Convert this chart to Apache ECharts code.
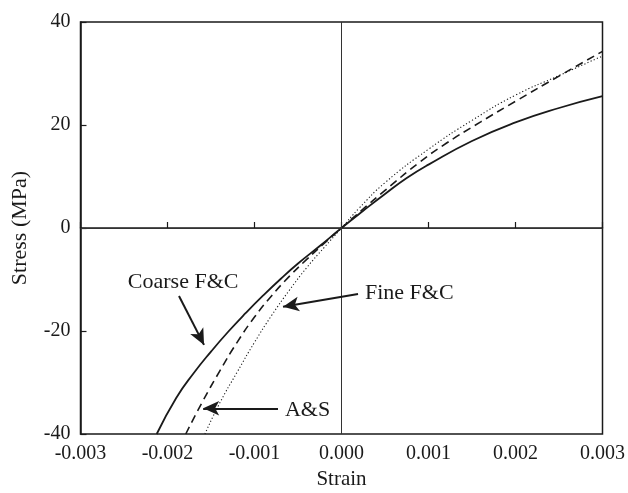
<!DOCTYPE html>
<html>
<head>
<meta charset="utf-8">
<script src="https://cdn.jsdelivr.net/npm/echarts@6/dist/echarts.min.js"></script>
<style>
html,body{margin:0;padding:0;background:#fff;}
#chart{width:628px;height:493px;}
</style>
</head>
<body>
<div id="chart"></div>
<script>
// Coarse F&C (solid)
const coarseStrain = [-0.002124, -0.0019, -0.0017, -0.0015, -0.0013, -0.0011, -0.0009, -0.0007, -0.0005, -0.00025, 0, 0.00025, 0.0005, 0.00075, 0.001, 0.0015, 0.002, 0.0025, 0.003];
const coarseStress = [-40, -33.0, -28.2, -24.0, -20.1, -16.5, -13.1, -9.9, -6.9, -3.5, 0, 3.35, 6.6, 9.7, 12.3, 16.9, 20.5, 23.3, 25.6];
// Fine F&C (dashed)
const fineStrain = [-0.00179, -0.0016, -0.0014, -0.0012, -0.001, -0.0008, -0.0006, -0.0004, -0.0002, 0, 0.00025, 0.0005, 0.0009, 0.0012, 0.0016, 0.002, 0.0025, 0.003];
const fineStress = [-40, -33.8, -27.8, -22.2, -17.3, -13.1, -9.4, -6.1, -3.0, 0, 3.7, 7.3, 12.8, 16.4, 20.6, 24.6, 29.5, 34.3];
// A&S (dotted)
const asStrain = [-0.00157, -0.0014, -0.0012, -0.001, -0.0008, -0.0006, -0.0004, -0.0002, 0, 0.0002, 0.0005, 0.001, 0.0015, 0.002, 0.0025, 0.003];
const asStress = [-40, -34, -28, -22.2, -16.9, -12.1, -7.7, -3.8, 0, 3.8, 8.8, 15.3, 20.9, 25.8, 29.6, 33.4];

const xTicks = [-0.003, -0.002, -0.001, 0, 0.001, 0.002, 0.003];
const yTicks = [-40, -20, 0, 20, 40];

// annotations
const annLabels = ['Coarse F&C', 'Fine F&C', 'A&S'];
const annText = [[-0.00182, -10.5, 'center'], [0.00027, -12.6, 'left'], [-0.00065, -35.3, 'left']];
const annArrow = [[-0.001868, -13.2, -0.00158, -22.7], [0.00019, -12.8, -0.000672, -15.3], [-0.00073, -35, -0.00159, -35]];

const FONT = 'Liberation Serif';
const INK = '#1a1a1a';

function pairs(xs, ys) { return xs.map((x, i) => [x, ys[i]]); }

const chart = echarts.init(document.getElementById('chart'), null, {renderer: 'canvas'});

const arrowData = annArrow.map(a => [{coord: [a[0], a[1]]}, {coord: [a[2], a[3]]}]);

const option = {
  animation: false,
  backgroundColor: '#fff',
  grid: {left: 80.5, right: 25.5, top: 22, bottom: 59, containLabel: false, outerBoundsMode: 'none',
         show: true, borderColor: INK, borderWidth: 1.5, backgroundColor: 'transparent'},
  xAxis: {
    type: 'value', min: xTicks[0], max: xTicks[xTicks.length - 1], interval: 0.001,
    name: 'Strain', nameLocation: 'middle', nameGap: 33,
    nameTextStyle: {fontFamily: FONT, fontSize: 21, color: INK},
    axisLine: {show: true, lineStyle: {color: INK, width: 1.5}},
    axisTick: {show: true, inside: true, length: 6, lineStyle: {color: INK, width: 1.2}},
    axisLabel: {fontFamily: FONT, fontSize: 20, color: INK, margin: 10, formatter: v => v.toFixed(3)},
    splitLine: {show: false}
  },
  yAxis: {
    type: 'value', min: yTicks[0], max: yTicks[yTicks.length - 1], interval: 20,
    name: 'Stress (MPa)', nameLocation: 'middle', nameGap: 49,
    nameTextStyle: {fontFamily: FONT, fontSize: 22, color: INK},
    axisLine: {show: true, onZero: false, lineStyle: {color: INK, width: 1.5}},
    axisTick: {show: true, inside: true, length: 6, lineStyle: {color: INK, width: 1.2}},
    axisLabel: {fontFamily: FONT, fontSize: 20, color: INK, margin: 10},
    splitLine: {show: false}
  },
  series: [
    {
      name: 'Coarse F&C', type: 'line', data: pairs(coarseStrain, coarseStress),
      smooth: 0.5, showSymbol: false, symbol: 'none',
      lineStyle: {color: INK, width: 1.8, type: 'solid'},
      markLine: {
        silent: true, symbol: 'none', label: {show: false},
        lineStyle: {color: '#333', width: 1, type: 'solid'},
        data: [{xAxis: 0}, {yAxis: 0}]
      }
    },
    {
      name: 'Fine F&C', type: 'line', data: pairs(fineStrain, fineStress),
      smooth: 0.5, showSymbol: false, symbol: 'none',
      lineStyle: {color: INK, width: 1.6, type: [8, 5]}
    },
    {
      name: 'A&S', type: 'line', data: pairs(asStrain, asStress),
      smooth: 0.5, showSymbol: false, symbol: 'none',
      lineStyle: {color: INK, width: 1.1, type: [1.2, 2.2]},
      markLine: {
        silent: true, symbol: ['none', 'arrow'], symbolSize: [11, 16], label: {show: false},
        lineStyle: {color: INK, width: 2, type: 'solid'},
        data: arrowData
      }
    }
  ]
};
chart.setOption(option);

// annotation texts, placed through the chart's own coordinate conversion
const g = annLabels.map((t, i) => {
  const p = chart.convertToPixel({gridIndex: 0}, [annText[i][0], annText[i][1]]);
  return {
    type: 'text', x: p[0], y: p[1], silent: true,
    style: {text: t, fontFamily: FONT, fontSize: 22, fill: INK, align: annText[i][2], verticalAlign: 'middle'}
  };
});
chart.setOption({graphic: g});
</script>
</body>
</html>
